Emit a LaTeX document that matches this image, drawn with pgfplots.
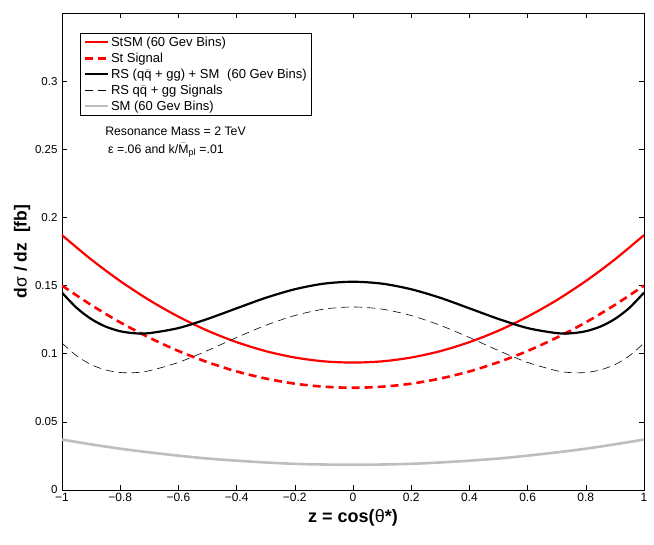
\documentclass[border=0pt]{standalone}
\usepackage{fontspec}
\setmainfont{Liberation Sans}
\usepackage{pgfplots}
\pgfplotsset{compat=1.18}
\begin{document}
\begin{tikzpicture}
\useasboundingbox (-62pt,-55pt) rectangle (592pt,490pt);
\begin{axis}[
  scale only axis,
  width=582pt, height=477pt,
  xmin=-1, xmax=1, ymin=0, ymax=0.35,
  xtick={-1,-0.8,-0.6,-0.4,-0.2,0,0.2,0.4,0.6,0.8,1},
  xticklabels={−1,−0.8,−0.6,−0.4,−0.2,0,0.2,0.4,0.6,0.8,1},
  ytick={0,0.05,0.1,0.15,0.2,0.25,0.3},
  yticklabels={0,0.05,0.1,0.15,0.2,0.25,0.3},
  tick align=inside,
  major tick length=5pt,
  tick style={black, line width=0.6pt},
  axis line style={line width=0.8pt},
  xticklabel style={font=\fontsize{12}{14}\selectfont},
  yticklabel style={font=\fontsize{11.5}{14}\selectfont, xshift=-1pt},
  xlabel={\textbf{z = cos(}θ\textbf{*)}},
  ylabel={\textbf{d}σ\textbf{ / dz \ [fb]}},
  xlabel style={font=\fontsize{18}{20}\selectfont, yshift=-1pt},
  ylabel style={font=\fontsize{17.5}{19}\selectfont, yshift=-2pt},
  legend style={at={(rel axis cs:0.031,0.958)}, anchor=north west,
    draw=black, line width=0.8pt, font=\fontsize{13}{15}\selectfont,
    row sep=1pt, inner xsep=3pt, inner ysep=1.5pt},
  legend cell align=left,
  legend image code/.code={\draw[#1] (0pt,0pt) -- (23pt,0pt);},
]
\addplot[red, line width=2.2pt, smooth] coordinates {
(-1,0.1870) (-0.9,0.1692) (-0.8,0.1533) (-0.7,0.1393) (-0.6,0.1272) (-0.5,0.1169)
(-0.4,0.1085) (-0.3,0.1019) (-0.2,0.0972) (-0.1,0.0944) (0,0.0935)
(0.1,0.0944) (0.2,0.0972) (0.3,0.1019) (0.4,0.1085) (0.5,0.1169)
(0.6,0.1272) (0.7,0.1393) (0.8,0.1533) (0.9,0.1692) (1,0.1870)};
\addlegendentry{StSM (60 Gev Bins)}
\addplot[red, line width=2.6pt, smooth, dash pattern=on 8pt off 5pt] coordinates {
(-1,0.1500) (-0.9,0.1358) (-0.8,0.1230) (-0.7,0.1118) (-0.6,0.1020) (-0.5,0.0938)
(-0.4,0.0870) (-0.3,0.0818) (-0.2,0.0780) (-0.1,0.0758) (0,0.0750)
(0.1,0.0758) (0.2,0.0780) (0.3,0.0818) (0.4,0.0870) (0.5,0.0938)
(0.6,0.1020) (0.7,0.1118) (0.8,0.1230) (0.9,0.1358) (1,0.1500)};
\addlegendentry{St Signal}
\addplot[black, line width=2.2pt, smooth] coordinates {
(-1,0.1448) (-0.95,0.1337) (-0.9,0.1255) (-0.85,0.1199) (-0.8,0.1165) (-0.75,0.1150)
(-0.7,0.1151) (-0.6,0.1188) (-0.5,0.1255) (-0.4,0.1333) (-0.3,0.1410)
(-0.2,0.1473) (-0.1,0.1514) (0,0.1528)
(0.1,0.1514) (0.2,0.1473) (0.3,0.1410) (0.4,0.1333) (0.5,0.1255) (0.6,0.1188)
(0.7,0.1151) (0.75,0.1150) (0.8,0.1165) (0.85,0.1199) (0.9,0.1255) (0.95,0.1337) (1,0.1448)};
\addlegendentry{RS (q$\bar{\mbox{q}}$ + gg) + SM\hspace{0.6em}(60 Gev Bins)}
\addplot[black, line width=0.6pt, smooth, dash pattern=on 8pt off 5pt] coordinates {
(-1,0.1078) (-0.95,0.0985) (-0.9,0.0920) (-0.85,0.0881) (-0.8,0.0862) (-0.75,0.0861)
(-0.7,0.0875) (-0.6,0.0936) (-0.5,0.1023) (-0.4,0.1119) (-0.3,0.1208)
(-0.2,0.1280) (-0.1,0.1327) (0,0.1343)
(0.1,0.1327) (0.2,0.1280) (0.3,0.1208) (0.4,0.1119) (0.5,0.1023) (0.6,0.0936)
(0.7,0.0875) (0.75,0.0861) (0.8,0.0862) (0.85,0.0881) (0.9,0.0920) (0.95,0.0985) (1,0.1078)};
\addlegendentry{RS q$\bar{\mbox{q}}$ + gg Signals}
\addplot[color={rgb,255:red,190;green,190;blue,190}, line width=2.6pt, smooth] coordinates {
(-1,0.0370) (-0.9,0.0335) (-0.8,0.0303) (-0.7,0.0276) (-0.6,0.0252) (-0.5,0.0231)
(-0.4,0.0215) (-0.3,0.0202) (-0.2,0.0192) (-0.1,0.0187) (0,0.0185)
(0.1,0.0187) (0.2,0.0192) (0.3,0.0202) (0.4,0.0215) (0.5,0.0231)
(0.6,0.0252) (0.7,0.0276) (0.8,0.0303) (0.9,0.0335) (1,0.0370)};
\addlegendentry{SM (60 Gev Bins)}
\node[anchor=west, font=\fontsize{12.3}{14}\selectfont, inner sep=0pt] at (rel axis cs:0.074,0.753) {Resonance Mass = 2 TeV};
\node[anchor=west, font=\fontsize{12.3}{14}\selectfont, inner sep=0pt] at (rel axis cs:0.079,0.712) {ε =.06 and k/$\bar{\mbox{M}}_{\mbox{\fontsize{9}{10}\selectfont pl}}$ =.01};
\end{axis}
\end{tikzpicture}
\end{document}
